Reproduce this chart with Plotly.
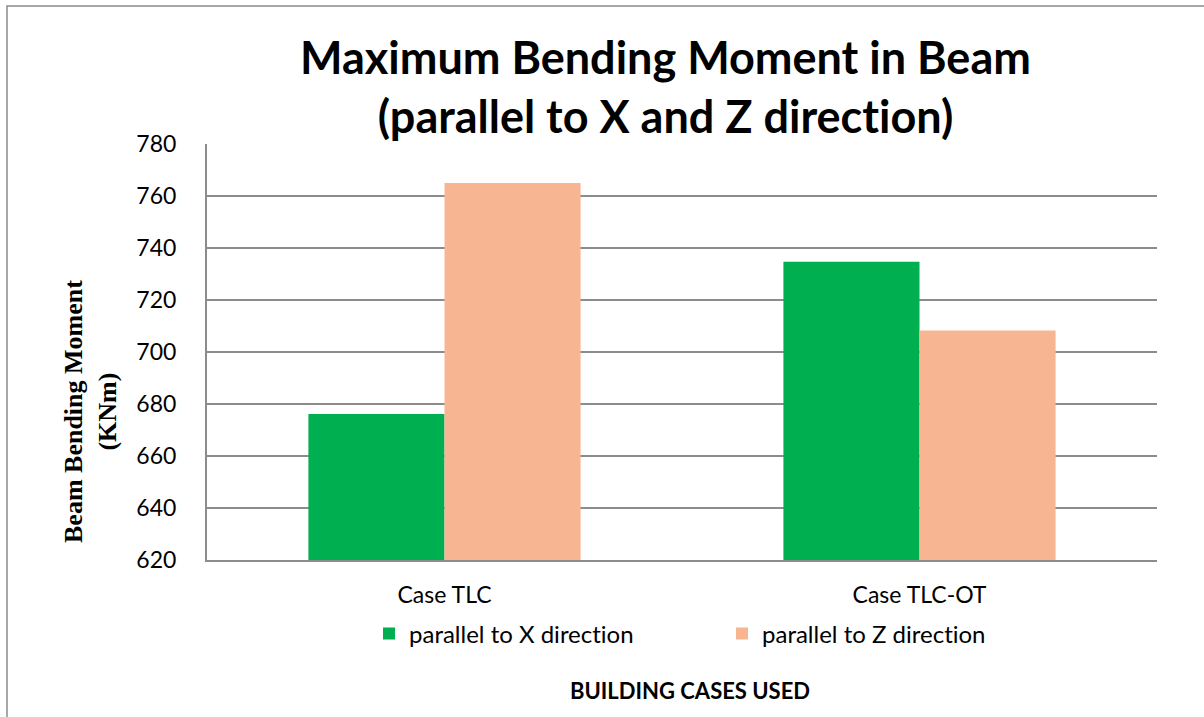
import plotly.graph_objects as go

categories = ["Case TLC", "Case TLC-OT"]
series_names = ["parallel to X direction", "parallel to Z direction"]
x_values = [676.2, 734.7]
z_values = [765.0, 708.3]
colors = ["#00AF50", "#F8B592"]
y_ticks = [620, 640, 660, 680, 700, 720, 740, 760, 780]

W, H = 1204, 717
L, R, T, B = 207, 47, 144, 157
pw, ph = W - L - R, H - T - B

def px_x(p):
    return (p - L) / pw

def px_y(p):
    return (H - B - p) / ph

BODY = "Lato, 'Open Sans', sans-serif"
NOLIG = "\u200c"

fig = go.Figure()
for name, vals, col in zip(series_names, [x_values, z_values], colors):
    fig.add_trace(go.Bar(x=categories, y=vals, name=name.replace("ti", "t" + NOLIG + "i"),
                         marker=dict(color=col, line=dict(width=0))))

fig.update_layout(
    width=W, height=H,
    margin=dict(l=L, r=R, t=T, b=B),
    paper_bgcolor="white", plot_bgcolor="white",
    barmode="group", bargap=0.427, bargroupgap=0,
    showlegend=True,
    legend=dict(orientation="h", x=px_x(369), xanchor="left", y=px_y(634), yanchor="middle",
                font=dict(family=BODY, size=24, color="#000"), entrywidth=308, entrywidthmode="pixels",
                bgcolor="rgba(0,0,0,0)"),
    font=dict(family=BODY, color="#000"),
)
fig.update_xaxes(showgrid=False, showline=True, linecolor="#8c8c8c", linewidth=2,
                 tickfont=dict(family=BODY, size=23, color="#000"), ticks="", ticklabelstandoff=13)
fig.update_yaxes(range=[620, 780], tickvals=y_ticks, showgrid=True, gridcolor="#8c8c8c", gridwidth=2,
                 showline=True, linecolor="#8c8c8c", linewidth=2, zeroline=False,
                 tickfont=dict(family=BODY, size=23, color="#000"), ticks="", ticklabelstandoff=24)

title = "Maximum Bending Moment in Beam<br>(parallel to X and Z direction)".replace("ti", "t" + NOLIG + "i")
fig.add_annotation(text="<b>" + title + "</b>",
                   xref="paper", yref="paper", x=px_x(665), y=px_y(86), xanchor="center", yanchor="middle",
                   showarrow=False, font=dict(family=BODY, size=45, color="#000"))
fig.add_annotation(text="<b>Beam Bending Moment<br>(KNm)</b>", textangle=-90,
                   xref="paper", yref="paper", x=px_x(90), y=px_y(412), xanchor="center", yanchor="middle",
                   showarrow=False, font=dict(family="'Liberation Serif', 'Times New Roman', serif", size=26, color="#000"))
fig.add_annotation(text="<b>BUILDING CASES USED</b>",
                   xref="paper", yref="paper", x=px_x(690), y=px_y(690), xanchor="center", yanchor="middle",
                   showarrow=False, font=dict(family=BODY, size=22, color="#000"))
fig.add_shape(type="rect", xref="paper", yref="paper",
              x0=px_x(7), x1=px_x(1215), y0=px_y(730), y1=px_y(6),
              line=dict(color="#8a8a8a", width=1.5), fillcolor="rgba(0,0,0,0)", layer="above")

fig.write_html("out.html", config={"displayModeBar": False},
               post_script="document.body.style.margin='0';document.body.style.overflow='hidden';")
